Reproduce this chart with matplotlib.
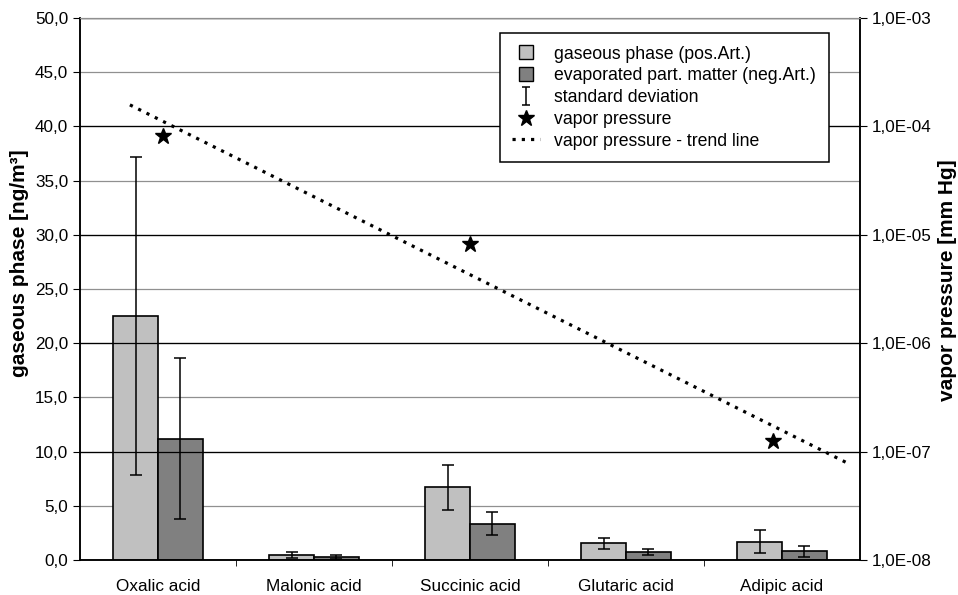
import matplotlib.pyplot as plt
import numpy as np
from matplotlib.lines import Line2D
from matplotlib.ticker import FixedLocator, FuncFormatter

plt.rcParams['font.family'] = ['Liberation Sans', 'DejaVu Sans']

# data
acids = ['Oxalic acid', 'Malonic acid', 'Succinic acid', 'Glutaric acid', 'Adipic acid']
gas_phase = [22.5, 0.45, 6.7, 1.55, 1.7]
gas_sd = [14.7, 0.3, 2.1, 0.5, 1.05]
evap_pm = [11.2, 0.3, 3.35, 0.75, 0.8]
evap_sd = [7.4, 0.17, 1.05, 0.25, 0.5]

# vapor pressure points (x in category units)
vp_x = [0.03, 2.0, 3.94]
vp_val = [8.1e-5, 8.2e-6, 1.25e-7]
trend_x = [-0.18, 4.42]

fig = plt.figure(figsize=(9.58, 5.95), dpi=100)
ax = fig.add_axes([0.0835, 0.0588, 0.8142, 0.9109])
ax2 = ax.twinx()

x = np.arange(len(acids))
w = 0.288
light = '#c0c0c0'
dark = '#808080'

ax.bar(x - w / 2, gas_phase, w, color=light, edgecolor='black', linewidth=1.2, zorder=3)
ax.bar(x + w / 2, evap_pm, w, color=dark, edgecolor='black', linewidth=1.2, zorder=3)
ax.errorbar(x - w / 2, gas_phase, yerr=gas_sd, fmt='none', ecolor='black',
            elinewidth=1.1, capsize=4, capthick=1.1, zorder=4)
ax.errorbar(x + w / 2, evap_pm, yerr=evap_sd, fmt='none', ecolor='black',
            elinewidth=1.1, capsize=4, capthick=1.1, zorder=4)

ax.set_xlim(-0.5, len(acids) - 0.5)
ax.set_ylim(0, 50)
ax.set_yticks(np.arange(0, 51, 5))
ax.yaxis.set_major_formatter(FuncFormatter(lambda v, p: f'{v:.1f}'.replace('.', ',')))
ax.set_xticks(x)
ax.set_xticklabels(acids, fontsize=12.3)
ax.xaxis.set_minor_locator(FixedLocator(np.arange(0.5, len(acids) - 1, 1)))
ax.tick_params(axis='x', which='major', length=0, pad=14)
ax.tick_params(axis='x', which='minor', length=4, direction='out')
ax.tick_params(axis='y', labelsize=12.3, length=5, direction='out')
ax.yaxis.grid(True, color='#909090', linewidth=0.9, zorder=0)
ax.set_axisbelow(True)
ax.set_ylabel('gaseous phase [ng/m³]', fontsize=15, fontweight='bold')
ax.yaxis.set_label_coords(-0.066, 0.548)

# vapor pressure on log axis
ax2.set_yscale('log')
ax2.set_ylim(1e-8, 1e-3)
ax2.set_yticks([1e-8, 1e-7, 1e-6, 1e-5, 1e-4, 1e-3])
ax2.yaxis.set_minor_locator(FixedLocator([]))
ax2.yaxis.set_major_formatter(FuncFormatter(lambda v, p: f'{v:.1E}'.replace('.', ',')))
ax2.tick_params(axis='y', labelsize=12.3, length=5, direction='out')
ax2.yaxis.grid(True, color='black', linewidth=0.9)
ax2.set_ylabel('vapor pressure [mm Hg]', fontsize=15, fontweight='bold')
ax2.yaxis.set_label_coords(1.1, 0.517)

ax2.plot(vp_x, vp_val, linestyle='none', marker='*', color='black', markersize=12, zorder=5)
coef = np.polyfit(vp_x, np.log10(vp_val), 1)
tx = np.array(trend_x)
ax2.plot(tx, 10 ** np.polyval(coef, tx), color='black', linestyle=(0, (1, 1.9)),
         linewidth=2.3, zorder=5)

for a in (ax, ax2):
    a.spines['top'].set_color('#909090')
    a.spines['left'].set_linewidth(1.1)
    a.spines['right'].set_linewidth(1.1)
    a.spines['bottom'].set_linewidth(1.1)

# legend proxy for the error bar symbol, placed outside the visible range
eb = ax2.errorbar([-10], [1e-6], yerr=[[5e-7], [5e-7]], fmt='none', ecolor='black',
                  elinewidth=1.1, capsize=3, capthick=1.1)
handles = [
    Line2D([], [], linestyle='none', marker='s', markersize=10,
           markerfacecolor=light, markeredgecolor='black', markeredgewidth=1),
    Line2D([], [], linestyle='none', marker='s', markersize=10,
           markerfacecolor=dark, markeredgecolor='black', markeredgewidth=1),
    eb,
    Line2D([], [], linestyle='none', marker='*', color='black', markersize=12),
    Line2D([], [], color='black', linestyle=(0, (1, 1.9)), linewidth=2.3),
]
labels = ['gaseous phase (pos.Art.)', 'evaporated part. matter (neg.Art.)',
          'standard deviation', 'vapor pressure', 'vapor pressure - trend line']
leg = ax2.legend(handles, labels, loc='upper left', bbox_to_anchor=(0.538, 0.972),
                 fontsize=12.7, frameon=True, fancybox=False, edgecolor='black',
                 framealpha=1, handlelength=1.6, handleheight=0.75,
                 labelspacing=0.27, borderpad=0.7, handletextpad=0.8,
                 borderaxespad=0)
leg.get_frame().set_linewidth(1.1)

fig.savefig('out.png', dpi=100)
